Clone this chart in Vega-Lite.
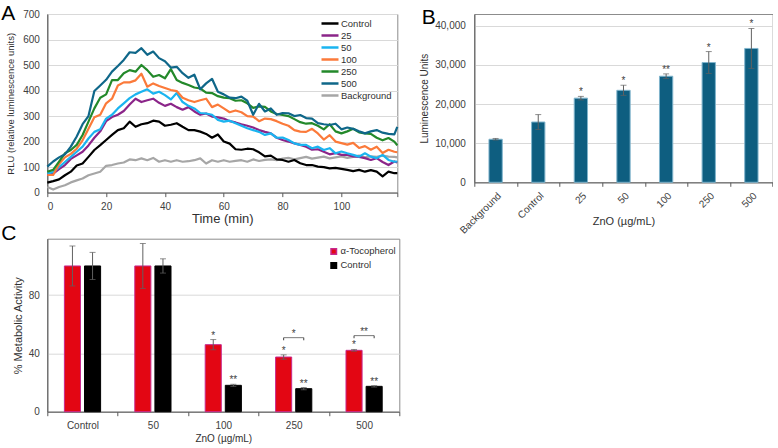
{
  "$schema": "https://vega.github.io/schema/vega-lite/v6.json",
  "padding": {"left": 0.3, "top": 2, "right": 0, "bottom": 0},
  "bounds": "flush",
  "columns": 2,
  "spacing": {"row": 45.7, "column": 75},
  "resolve": {
    "scale": {"color": "independent", "stroke": "independent", "x": "independent", "y": "independent", "xOffset": "independent"},
    "legend": {"color": "independent", "stroke": "independent"},
    "axis": {"x": "independent", "y": "independent"}
  },
  "config": {
    "font": "Liberation Sans",
    "view": {"stroke": "#8c8c8c", "strokeWidth": 1},
    "axis": {
      "domainColor": "#595959",
      "tickColor": "#595959",
      "labelColor": "#404040",
      "titleColor": "#303030",
      "labelFontSize": 10,
      "titleFontWeight": "normal",
      "gridColor": "#d9d9d9",
      "tickSize": 4
    },
    "title": {"fontSize": 21, "fontWeight": "normal", "anchor": "start", "frame": "group", "offset": 0, "baseline": "alphabetic", "color": "#000000"},
    "legend": {"labelColor": "#303030", "title": null}
  },
  "concat": [
    {
      "width": 350,
      "height": 178.6,
      "title": {"text": "A", "dx": -46, "dy": 18.6},
      "data": {"values": [
        {"t": 0, "Control": 39, "25": 69, "50": 76, "100": 69, "250": 82, "500": 102, "Background": 22},
        {"t": 2, "Control": 45, "25": 74, "50": 80, "100": 69, "250": 89, "500": 122, "Background": 12},
        {"t": 4, "Control": 52, "25": 92, "50": 100, "100": 112, "250": 121, "500": 138, "Background": 22},
        {"t": 6, "Control": 68, "25": 108, "50": 120, "100": 138, "250": 154, "500": 150, "Background": 29},
        {"t": 8, "Control": 82, "25": 132, "50": 140, "100": 152, "250": 167, "500": 180, "Background": 40},
        {"t": 10, "Control": 106, "25": 146, "50": 160, "100": 172, "250": 187, "500": 220, "Background": 48},
        {"t": 12, "Control": 114, "25": 160, "50": 180, "100": 205, "250": 226, "500": 268, "Background": 55},
        {"t": 14, "Control": 140, "25": 185, "50": 212, "100": 250, "250": 278, "500": 300, "Background": 68},
        {"t": 16, "Control": 167, "25": 215, "50": 238, "100": 295, "250": 330, "500": 398, "Background": 75},
        {"t": 18, "Control": 186, "25": 240, "50": 248, "100": 305, "250": 372, "500": 420, "Background": 82},
        {"t": 20, "Control": 206, "25": 280, "50": 290, "100": 350, "250": 385, "500": 442, "Background": 105},
        {"t": 22, "Control": 226, "25": 296, "50": 305, "100": 368, "250": 441, "500": 474, "Background": 108},
        {"t": 24, "Control": 245, "25": 305, "50": 330, "100": 420, "250": 441, "500": 496, "Background": 114},
        {"t": 26, "Control": 252, "25": 320, "50": 350, "100": 432, "250": 468, "500": 520, "Background": 118},
        {"t": 28, "Control": 278, "25": 345, "50": 370, "100": 432, "250": 480, "500": 550, "Background": 130},
        {"t": 30, "Control": 258, "25": 368, "50": 385, "100": 440, "250": 474, "500": 548, "Background": 127},
        {"t": 32, "Control": 268, "25": 355, "50": 395, "100": 466, "250": 500, "500": 566, "Background": 134},
        {"t": 34, "Control": 272, "25": 362, "50": 405, "100": 415, "250": 480, "500": 540, "Background": 127},
        {"t": 36, "Control": 282, "25": 368, "50": 388, "100": 428, "250": 454, "500": 553, "Background": 136},
        {"t": 38, "Control": 278, "25": 352, "50": 395, "100": 418, "250": 461, "500": 527, "Background": 121},
        {"t": 40, "Control": 262, "25": 340, "50": 382, "100": 410, "250": 448, "500": 515, "Background": 127},
        {"t": 42, "Control": 266, "25": 348, "50": 365, "100": 402, "250": 484, "500": 490, "Background": 121},
        {"t": 44, "Control": 272, "25": 335, "50": 390, "100": 398, "250": 441, "500": 493, "Background": 127},
        {"t": 46, "Control": 258, "25": 325, "50": 355, "100": 372, "250": 430, "500": 468, "Background": 121},
        {"t": 48, "Control": 245, "25": 335, "50": 340, "100": 362, "250": 422, "500": 450, "Background": 123},
        {"t": 50, "Control": 245, "25": 318, "50": 330, "100": 355, "250": 412, "500": 462, "Background": 127},
        {"t": 52, "Control": 239, "25": 305, "50": 312, "100": 362, "250": 408, "500": 405, "Background": 134},
        {"t": 54, "Control": 230, "25": 310, "50": 310, "100": 368, "250": 392, "500": 428, "Background": 114},
        {"t": 56, "Control": 215, "25": 298, "50": 305, "100": 335, "250": 390, "500": 446, "Background": 127},
        {"t": 58, "Control": 228, "25": 295, "50": 285, "100": 345, "250": 378, "500": 395, "Background": 121},
        {"t": 60, "Control": 200, "25": 290, "50": 278, "100": 330, "250": 372, "500": 385, "Background": 127},
        {"t": 62, "Control": 192, "25": 280, "50": 282, "100": 315, "250": 370, "500": 372, "Background": 121},
        {"t": 64, "Control": 170, "25": 275, "50": 272, "100": 322, "250": 360, "500": 370, "Background": 124},
        {"t": 66, "Control": 168, "25": 268, "50": 262, "100": 315, "250": 362, "500": 376, "Background": 127},
        {"t": 68, "Control": 172, "25": 262, "50": 252, "100": 300, "250": 350, "500": 360, "Background": 121},
        {"t": 70, "Control": 170, "25": 255, "50": 245, "100": 298, "250": 332, "500": 305, "Background": 130},
        {"t": 72, "Control": 158, "25": 245, "50": 238, "100": 280, "250": 338, "500": 348, "Background": 124},
        {"t": 74, "Control": 142, "25": 238, "50": 226, "100": 290, "250": 336, "500": 318, "Background": 128},
        {"t": 76, "Control": 145, "25": 232, "50": 232, "100": 288, "250": 318, "500": 330, "Background": 130},
        {"t": 78, "Control": 130, "25": 215, "50": 215, "100": 280, "250": 308, "500": 305, "Background": 127},
        {"t": 80, "Control": 128, "25": 206, "50": 216, "100": 270, "250": 304, "500": 312, "Background": 133},
        {"t": 82, "Control": 121, "25": 200, "50": 206, "100": 262, "250": 300, "500": 311, "Background": 136},
        {"t": 84, "Control": 128, "25": 193, "50": 193, "100": 245, "250": 288, "500": 300, "Background": 130},
        {"t": 86, "Control": 115, "25": 187, "50": 187, "100": 239, "250": 276, "500": 304, "Background": 135},
        {"t": 88, "Control": 108, "25": 180, "50": 187, "100": 238, "250": 270, "500": 292, "Background": 140},
        {"t": 90, "Control": 108, "25": 168, "50": 174, "100": 250, "250": 272, "500": 290, "Background": 133},
        {"t": 92, "Control": 102, "25": 170, "50": 180, "100": 232, "250": 262, "500": 272, "Background": 137},
        {"t": 94, "Control": 100, "25": 160, "50": 167, "100": 208, "250": 248, "500": 268, "Background": 141},
        {"t": 96, "Control": 95, "25": 150, "50": 174, "100": 225, "250": 268, "500": 265, "Background": 134},
        {"t": 98, "Control": 97, "25": 155, "50": 154, "100": 200, "250": 240, "500": 270, "Background": 138},
        {"t": 100, "Control": 93, "25": 148, "50": 161, "100": 194, "250": 232, "500": 248, "Background": 142},
        {"t": 102, "Control": 89, "25": 148, "50": 154, "100": 188, "250": 240, "500": 255, "Background": 136},
        {"t": 104, "Control": 84, "25": 142, "50": 148, "100": 195, "250": 250, "500": 250, "Background": 140},
        {"t": 106, "Control": 89, "25": 140, "50": 141, "100": 175, "250": 236, "500": 240, "Background": 145},
        {"t": 108, "Control": 82, "25": 135, "50": 154, "100": 182, "250": 232, "500": 232, "Background": 138},
        {"t": 110, "Control": 88, "25": 128, "50": 141, "100": 168, "250": 230, "500": 240, "Background": 142},
        {"t": 112, "Control": 82, "25": 135, "50": 135, "100": 180, "250": 215, "500": 245, "Background": 140},
        {"t": 114, "Control": 64, "25": 120, "50": 148, "100": 155, "250": 205, "500": 235, "Background": 145},
        {"t": 116, "Control": 82, "25": 108, "50": 128, "100": 168, "250": 214, "500": 230, "Background": 141},
        {"t": 118, "Control": 76, "25": 122, "50": 121, "100": 160, "250": 200, "500": 228, "Background": 140},
        {"t": 119, "Control": 76, "25": 118, "50": 122, "100": 158, "250": 185, "500": 258, "Background": 138}
      ]},
      "transform": [
        {"fold": ["Background", "Control", "25", "50", "100", "250", "500"], "as": ["series", "rlu"]}
      ],
      "mark": {"type": "line", "strokeWidth": 2.2, "strokeJoin": "round"},
      "encoding": {
        "x": {
          "field": "t", "type": "quantitative",
          "scale": {"domain": [0, 119], "nice": false},
          "axis": {
            "title": "Time (min)", "titleFontSize": 13, "titleY": 30, "titleBaseline": "alphabetic",
            "values": [0, 20, 40, 60, 80, 100, 119],
            "labelExpr": "datum.value > 110 ? '' : datum.label",
            "grid": false, "labelPadding": 4.5
          }
        },
        "y": {
          "field": "rlu", "type": "quantitative",
          "scale": {"domain": [0, 700], "nice": false},
          "axis": {
            "title": "RLU (relative luminescence units)", "titleFontSize": 9.5, "titlePadding": 7,
            "values": [0, 100, 200, 300, 400, 500, 600, 700],
            "ticks": false, "grid": true, "labelPadding": 8
          }
        },
        "color": {
          "field": "series", "type": "nominal",
          "scale": {
            "domain": ["Control", "25", "50", "100", "250", "500", "Background"],
            "range": ["#000000", "#8b2589", "#1ab4f0", "#fb7a3a", "#23892a", "#0f6789", "#a6a6a6"]
          },
          "legend": {
            "orient": "none", "legendX": 276.2, "legendY": 3, "padding": 0,
            "symbolType": "M-1.7,0H1.7", "symbolSize": 100, "symbolStrokeWidth": 2.5,
            "labelFontSize": 9.5, "labelOffset": 4.5, "rowPadding": -0.6
          }
        }
      }
    },
    {
      "width": 298.4,
      "height": 168.3,
      "title": {"text": "B", "dx": -52.6, "dy": 17.9},
      "data": {"values": [
        {"c": "Background", "v": 11000, "lo": 10800, "hi": 11200, "sig": ""},
        {"c": "Control", "v": 15400, "lo": 13500, "hi": 17300, "sig": ""},
        {"c": "25", "v": 21500, "lo": 21050, "hi": 21950, "sig": "*"},
        {"c": "50", "v": 23500, "lo": 22200, "hi": 24800, "sig": "*"},
        {"c": "100", "v": 27100, "lo": 26500, "hi": 27700, "sig": "**"},
        {"c": "250", "v": 30600, "lo": 27800, "hi": 33400, "sig": "*"},
        {"c": "500", "v": 34200, "lo": 29100, "hi": 39300, "sig": "*"}
      ]},
      "encoding": {
        "x": {
          "field": "c", "type": "nominal", "sort": null,
          "scale": {"paddingInner": 0, "paddingOuter": 0},
          "axis": {
            "title": "ZnO (µg/mL)", "titleFontSize": 11, "titleY": 42.7, "titleBaseline": "alphabetic",
            "labelAngle": -45, "tickBand": "extent", "labelPadding": 4
          }
        }
      },
      "layer": [
        {
          "mark": {"type": "bar", "width": 13.3, "fill": "#0e5e80", "stroke": "#7fb4cc", "strokeWidth": 1},
          "encoding": {
            "y": {
              "field": "v", "type": "quantitative",
              "scale": {"domain": [0, 43000], "nice": false},
              "axis": {
                "title": "Luminescence Units", "titleFontSize": 10, "titleX": -47, "titleBaseline": "alphabetic",
                "values": [0, 5000, 10000, 15000, 20000, 25000, 30000, 35000, 40000],
                "labelExpr": "datum.value >= 1000 ? floor(datum.value / 1000) + ',000' : '0'",
                "ticks": false, "grid": true, "labelPadding": 9
              }
            }
          }
        },
        {
          "mark": {"type": "rule", "color": "#606060", "strokeWidth": 1},
          "encoding": {"y": {"field": "lo", "type": "quantitative"}, "y2": {"field": "hi"}}
        },
        {
          "mark": {"type": "tick", "color": "#606060", "size": 6, "thickness": 1, "orient": "horizontal"},
          "encoding": {"y": {"field": "hi", "type": "quantitative"}}
        },
        {
          "mark": {"type": "tick", "color": "#606060", "size": 6, "thickness": 1, "orient": "horizontal"},
          "encoding": {"y": {"field": "lo", "type": "quantitative"}}
        },
        {
          "mark": {"type": "text", "baseline": "alphabetic", "dy": -1, "fontSize": 10, "color": "#404040"},
          "encoding": {"y": {"field": "hi", "type": "quantitative"}, "text": {"field": "sig"}}
        }
      ]
    },
    {
      "width": 352,
      "height": 173,
      "title": {"text": "C", "dx": -46, "dy": 13.3},
      "data": {"values": [
        {"cat": "Control", "grp": "α-Tocopherol", "v": 100, "lo": 86.3, "hi": 113.7, "sig": ""},
        {"cat": "Control", "grp": "Control", "v": 100, "lo": 90.7, "hi": 109.3, "sig": ""},
        {"cat": "50", "grp": "α-Tocopherol", "v": 100, "lo": 84.6, "hi": 115.4, "sig": ""},
        {"cat": "50", "grp": "Control", "v": 100, "lo": 95.1, "hi": 104.9, "sig": ""},
        {"cat": "100", "grp": "α-Tocopherol", "v": 46, "lo": 42.5, "hi": 49.5, "sig": "*"},
        {"cat": "100", "grp": "Control", "v": 18.1, "lo": 17.4, "hi": 18.8, "sig": "**"},
        {"cat": "250", "grp": "α-Tocopherol", "v": 37.5, "lo": 36, "hi": 39, "sig": "*"},
        {"cat": "250", "grp": "Control", "v": 15.8, "lo": 15, "hi": 16.6, "sig": "**"},
        {"cat": "500", "grp": "α-Tocopherol", "v": 42.1, "lo": 41.5, "hi": 42.7, "sig": "*"},
        {"cat": "500", "grp": "Control", "v": 17.4, "lo": 16.9, "hi": 17.9, "sig": "**"}
      ]},
      "encoding": {
        "x": {
          "field": "cat", "type": "nominal", "sort": null,
          "scale": {"domain": ["Control", "50", "100", "250", "500"], "paddingInner": 0, "paddingOuter": 0},
          "axis": {
            "title": "ZnO (µg/mL)", "titleFontSize": 10, "titleY": 29.5, "titleBaseline": "alphabetic",
            "labelAngle": 0, "tickBand": "extent", "labelPadding": 5
          }
        }
      },
      "layer": [
        {
          "mark": {"type": "bar", "strokeWidth": 1},
          "encoding": {
            "xOffset": {"field": "grp", "type": "nominal", "scale": {"domain": ["α-Tocopherol", "Control"], "paddingInner": 0.2, "paddingOuter": 0.85}},
            "y": {
              "field": "v", "type": "quantitative",
              "scale": {"domain": [0, 118.7], "nice": false},
              "axis": {
                "title": "% Metabolic Activity", "titleFontSize": 11, "titlePadding": 5,
                "values": [0, 20, 40, 60, 80, 100], "ticks": false, "grid": true, "labelPadding": 8
              }
            },
            "color": {
              "field": "grp", "type": "nominal",
              "scale": {"domain": ["α-Tocopherol", "Control"], "range": ["#e30613", "#000000"]},
              "legend": {
                "orient": "none", "legendX": 281.7, "legendY": 8, "padding": 0,
                "symbolType": "square", "symbolSize": 30, "labelFontSize": 9.5,
                "labelOffset": 2, "rowPadding": 2
              }
            },
            "stroke": {
              "field": "grp", "type": "nominal",
              "scale": {"domain": ["α-Tocopherol", "Control"], "range": ["#c8288e", "#000000"]},
              "legend": {
                "orient": "none", "legendX": 281.7, "legendY": 8, "padding": 0,
                "symbolType": "square", "symbolSize": 30, "labelFontSize": 9.5,
                "labelOffset": 2, "rowPadding": 2
              }
            }
          }
        },
        {
          "mark": {"type": "rule", "color": "#606060", "strokeWidth": 1},
          "encoding": {
            "xOffset": {"field": "grp", "type": "nominal"},
            "y": {"field": "lo", "type": "quantitative"}, "y2": {"field": "hi"}
          }
        },
        {
          "mark": {"type": "tick", "color": "#606060", "size": 6, "thickness": 1, "orient": "horizontal"},
          "encoding": {"xOffset": {"field": "grp", "type": "nominal"}, "y": {"field": "hi", "type": "quantitative"}}
        },
        {
          "mark": {"type": "tick", "color": "#606060", "size": 6, "thickness": 1, "orient": "horizontal"},
          "encoding": {"xOffset": {"field": "grp", "type": "nominal"}, "y": {"field": "lo", "type": "quantitative"}}
        },
        {
          "mark": {"type": "text", "baseline": "alphabetic", "dy": -1, "fontSize": 10, "color": "#404040"},
          "encoding": {"xOffset": {"field": "grp", "type": "nominal"}, "y": {"field": "hi", "type": "quantitative"}, "text": {"field": "sig"}}
        },
        {
          "data": {"values": [
            {"cat": "250", "grp": "α-Tocopherol", "yb": 50.8, "ye": 49},
            {"cat": "250", "grp": "Control", "yb": 50.8, "ye": 49},
            {"cat": "500", "grp": "α-Tocopherol", "yb": 52.2, "ye": 50.4},
            {"cat": "500", "grp": "Control", "yb": 52.2, "ye": 50.4}
          ]},
          "mark": {"type": "rule", "color": "#404040", "strokeWidth": 1},
          "encoding": {
            "xOffset": {"field": "grp", "type": "nominal"},
            "y": {"field": "yb", "type": "quantitative"}, "y2": {"field": "ye"}
          }
        },
        {
          "data": {"values": [
            {"cat": "250", "yb": 50.8, "lab": "*"},
            {"cat": "500", "yb": 52.2, "lab": "**"}
          ]},
          "mark": {"type": "tick", "color": "#404040", "size": 20, "thickness": 1, "orient": "horizontal"},
          "encoding": {"y": {"field": "yb", "type": "quantitative"}}
        },
        {
          "data": {"values": [
            {"cat": "250", "yb": 50.8, "lab": "*"},
            {"cat": "500", "yb": 52.2, "lab": "**"}
          ]},
          "mark": {"type": "text", "baseline": "alphabetic", "dy": -1, "fontSize": 10, "color": "#404040"},
          "encoding": {"y": {"field": "yb", "type": "quantitative"}, "text": {"field": "lab"}}
        }
      ]
    }
  ]
}
